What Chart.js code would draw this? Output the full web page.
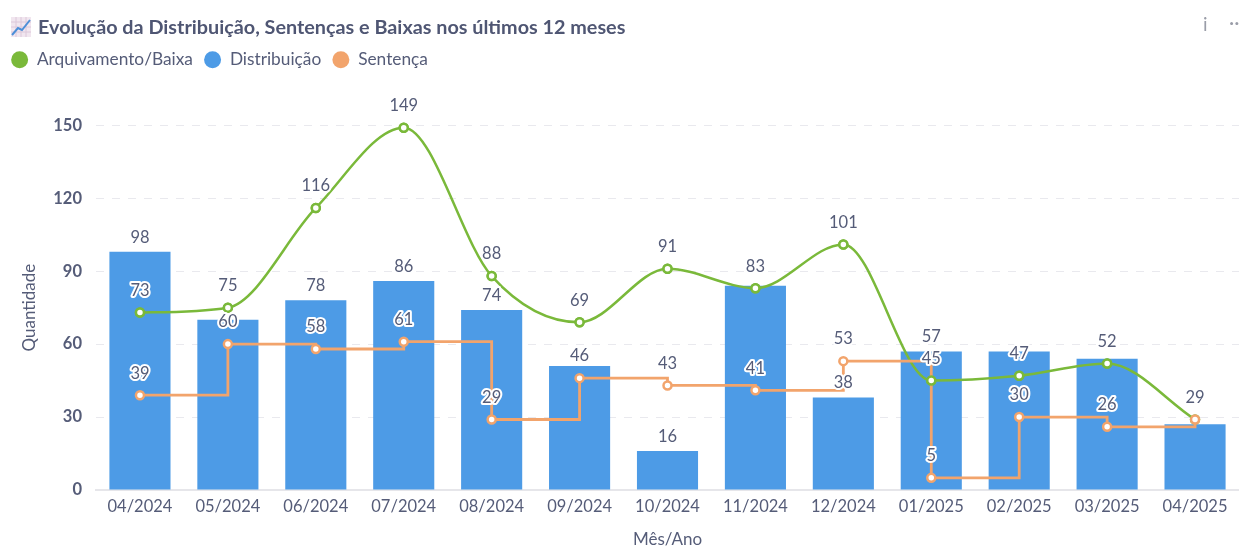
<!DOCTYPE html>
<html lang="pt">
<head>
<meta charset="utf-8">
<title>Evolução da Distribuição</title>
<script src="https://cdn.jsdelivr.net/npm/chart.js@4"></script>
<style>
  html, body { margin: 0; padding: 0; background: #fff; overflow: hidden; }
  #wrap { position: relative; width: 1239px; height: 548px; font-family: Lato, sans-serif; }
  #title { position: absolute; left: 38px; top: 14px; font-size: 19.8px; font-weight: 700; color: #4f5673; white-space: nowrap; }
  #icon { position: absolute; left: 11px; top: 17px; }
  #info { position: absolute; left: 1203px; top: 12px; font-size: 19px; color: #9a9da8; }
  #more { position: absolute; left: 1229px; top: 9px; font-size: 20px; color: #9a9da8; }
</style>
</head>
<body>
<div id="wrap">
  <svg id="icon" width="20" height="20" viewBox="0 0 20 20">
    <rect width="20" height="20" fill="#f1e6ef"/>
    <path d="M0 5H20M0 10H20M0 15H20M5 0V20M10 0V20M15 0V20" stroke="#dcc8da" stroke-width="1"/>
    <path d="M1 18L7 11L11 13L19 3" fill="none" stroke="#4d8fd8" stroke-width="2"/>
  </svg>
  <div id="title">Evolução da Distribuição, Sentenças e Baixas nos últimos 12 meses</div>
  <div id="info">i</div>
  <div id="more">··</div>
  <canvas id="chart" width="1239" height="548"></canvas>
</div>
<script>
const months = ["04/2024", "05/2024", "06/2024", "07/2024", "08/2024", "09/2024", "10/2024", "11/2024", "12/2024", "01/2025", "02/2025", "03/2025", "04/2025"];
const baixas = [73, 75, 116, 149, 88, 69, 91, 83, 101, 45, 47, 52, 29];
const distribuicao = [98, 70, 78, 86, 74, 51, 16, 84, 38, 57, 57, 54, 27];
const sentencas = [39, 60, 58, 61, 29, 46, 43, 41, 53, 5, 30, 26, 29];
// bars whose label is hidden in the original because it collides with a line label
const distribuicaoLabels = [98, null, 78, 86, 74, null, 16, null, 38, 57, null, null, null];
const sentencasLabels = [39, 60, 58, 61, 29, 46, 43, 41, 53, 5, 30, 26, null];

const textColor = "#555c78";
const green = "#7ab93a";
const blue = "#4d9be6";
const orange = "#f2a46c";

// value labels with a white halo
const valueLabels = {
  id: "valueLabels",
  afterDatasetsDraw(chart) {
    const ctx = chart.ctx;
    // green markers sit above the orange line, except the last one
    chart.getDatasetMeta(0).data.slice(0, -1).forEach(p => p.draw(ctx, chart.chartArea));
    ctx.save();
    ctx.font = "16.5px Lato";
    ctx.textAlign = "center";
    ctx.textBaseline = "middle";
    ctx.fillStyle = textColor;
    ctx.lineJoin = "round";
    chart.data.datasets.forEach((ds, i) => {
      const points = chart.getDatasetMeta(i).data;
      ds.labelValues.forEach((v, j) => {
        if (v === null) return;
        const y = points[j].y - (ds.type === "bar" ? 14.5 : 22);
        ctx.strokeStyle = "#fff";
        ctx.lineWidth = 4;
        ctx.strokeText(v, points[j].x, y);
        ctx.fillText(v, points[j].x, y);
      });
    });
    ctx.restore();
  }
};

// extra room under the legend, so the plot starts where the original does
const legendRoom = {
  id: "legendRoom",
  beforeInit(chart) {
    const fit = chart.legend.fit;
    chart.legend.fit = function () {
      fit.call(this);
      this.height += 47;
    };
  }
};

new Chart(document.getElementById("chart"), {
  data: {
    labels: months,
    datasets: [
      {
        type: "line",
        label: "Arquivamento/Baixa",
        data: baixas,
        labelValues: baixas,
        borderColor: green,
        backgroundColor: green,
        pointBackgroundColor: "#fff",
        pointBorderColor: green,
        pointBorderWidth: 2.5,
        pointRadius: 4,
        borderWidth: 2.5,
        cubicInterpolationMode: "monotone",
        clip: false,
        order: 2
      },
      {
        type: "bar",
        label: "Distribuição",
        data: distribuicao,
        labelValues: distribuicaoLabels,
        backgroundColor: blue,
        barPercentage: 0.695,
        categoryPercentage: 1,
        order: 3
      },
      {
        type: "line",
        label: "Sentença",
        data: sentencas,
        labelValues: sentencasLabels,
        borderColor: orange,
        backgroundColor: orange,
        pointBackgroundColor: "#fff",
        pointBorderColor: orange,
        pointBorderWidth: 2.5,
        pointRadius: 4,
        borderWidth: 2.8,
        stepped: "before",
        clip: false,
        order: 1
      }
    ]
  },
  plugins: [legendRoom, valueLabels],
  options: {
    responsive: false,
    animation: false,
    layout: { autoPadding: false, padding: { left: 0, right: 0, top: 40, bottom: -2 } },
    plugins: {
      tooltip: { enabled: false },
      legend: {
        position: "top",
        align: "start",
        labels: {
          usePointStyle: true,
          pointStyle: "circle",
          boxHeight: 12,
          padding: 11,
          color: textColor,
          font: { family: "Lato", size: 17.3 },
          sort: (a, b) => a.datasetIndex - b.datasetIndex,
          // filled dots in the legend, the line points themselves are white inside
          generateLabels(chart) {
            return Chart.defaults.plugins.legend.labels.generateLabels(chart).map(item => {
              const ds = chart.data.datasets[item.datasetIndex];
              return { ...item, fillStyle: ds.backgroundColor, strokeStyle: ds.backgroundColor, lineWidth: 0 };
            });
          }
        }
      }
    },
    scales: {
      x: {
        offset: true,
        afterFit(scale) { scale.height = 60; },
        grid: { display: false },
        border: { color: "#e6e6ea", width: 2 },
        ticks: { color: textColor, font: { family: "Lato", size: 16.5 }, padding: -1, maxRotation: 0, autoSkip: false },
        title: { display: true, text: "Mês/Ano", color: textColor, font: { family: "Lato", size: 17 }, padding: { top: 15, bottom: 0 } }
      },
      y: {
        min: 0,
        max: 150,
        afterFit(scale) { scale.width = 96; },
        grid: { color: "#e9e9ee", drawTicks: false },
        border: { display: false, dash: [8, 8] },
        ticks: { stepSize: 30, color: textColor, font: { family: "Lato", size: 16.5, weight: "bold" }, padding: 14 },
        title: { display: true, text: "Quantidade", color: textColor, font: { family: "Lato", size: 17 }, padding: { top: 19, bottom: 0 } }
      }
    }
  }
});
</script>
</body>
</html>
